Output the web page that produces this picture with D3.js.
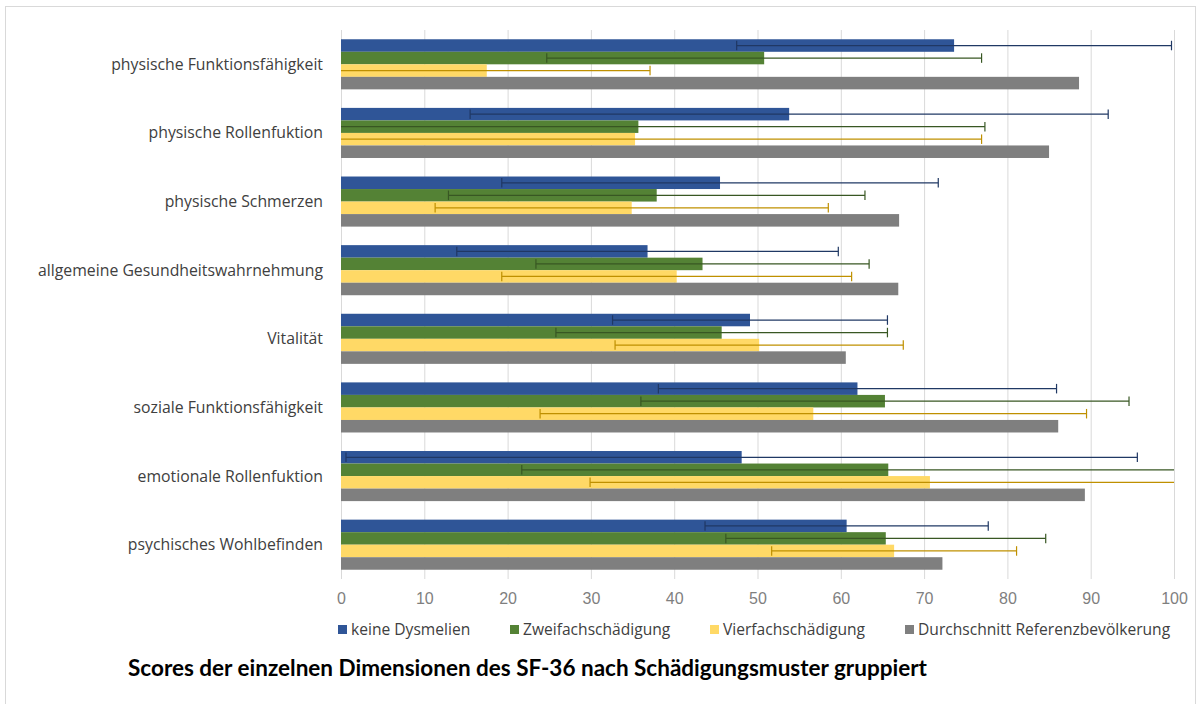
<!DOCTYPE html>
<meta charset="utf-8">
<style>
body { margin: 0; background: #fff; }
svg { font-family: Lato, "Open Sans", sans-serif; }
.grid line { stroke: #d9d9d9; stroke-width: 1; }
.grid .domain { display: none; }
.x.axis text { fill: #7f7f7f; font-size: 16px; }
.x.axis .domain, .x.axis line { display: none; }
.cat { fill: #404040; font-size: 15.8px; text-anchor: end; font-family: "Open Sans", sans-serif; }
.legend text { fill: #404040; font-size: 15.6px; font-family: "Open Sans", sans-serif; }
.title { font-weight: bold; font-size: 22.5px; fill: #000; }
</style>
<body>
<script src="https://cdn.jsdelivr.net/npm/d3@7"></script>
<script>

// the data
var categories = ["physische Funktionsfähigkeit", "physische Rollenfuktion", "physische Schmerzen",
  "allgemeine Gesundheitswahrnehmung", "Vitalität", "soziale Funktionsfähigkeit",
  "emotionale Rollenfuktion", "psychisches Wohlbefinden"];
var seriesNames = ["keine Dysmelien", "Zweifachschädigung", "Vierfachschädigung", "Durchschnitt Referenzbevölkerung"];

var keineDysmelien   = [73.6, 53.8, 45.5, 36.8, 49.1, 62.0, 48.1, 60.7];
var keineDysmelienSD = [26.1, 38.3, 26.2, 22.9, 16.5, 23.9, 47.5, 17.0];
var zweifach         = [50.8, 35.7, 37.9, 43.4, 45.7, 65.3, 65.7, 65.4];
var zweifachSD       = [26.1, 41.6, 25.0, 20.0, 19.9, 29.3, 44.0, 19.2];
var vierfach         = [17.5, 35.3, 34.9, 40.3, 50.2, 56.7, 70.7, 66.4];
var vierfachSD       = [19.6, 41.6, 23.6, 21.0, 17.3, 32.8, 40.8, 14.7];
var referenz         = [88.6, 85.0, 67.0, 66.9, 60.6, 86.1, 89.3, 72.2];
var xTicks = [0, 10, 20, 30, 40, 50, 60, 70, 80, 90, 100];

var colors    = ["#2f5597", "#548235", "#ffd966", "#7f7f7f"];
var errColors = ["#203864", "#385723", "#bf9000", null];

var values = [keineDysmelien, zweifach, vierfach, referenz];
var sds = [keineDysmelienSD, zweifachSD, vierfachSD, null];

var width = 1200, height = 704;
var plot = {left: 341, right: 1174, top: 30, bottom: 579};

var svg = d3.select("body").append("svg")
    .attr("width", width)
    .attr("height", height);

// chart frame
svg.append("rect")
    .attr("x", 5.5).attr("y", 6.5)
    .attr("width", 1190).attr("height", 710)
    .attr("fill", "none").attr("stroke", "#d9d9d9");

var x = d3.scaleLinear().domain([0, 100]).range([plot.left, plot.right]);
var y = d3.scaleBand().domain(categories)
    .range([plot.top, plot.bottom])
    .paddingInner(0.27).paddingOuter(0.135);
var ys = d3.scaleBand().domain(seriesNames).range([0, y.bandwidth()]);

// gridlines
svg.append("g")
    .attr("class", "grid")
    .attr("transform", "translate(0," + plot.bottom + ")")
    .call(d3.axisBottom(x).tickValues(xTicks).tickSize(-(plot.bottom - plot.top)).tickFormat(""));

// bars
var rows = [];
categories.forEach(function(c, i) {
  seriesNames.forEach(function(s, j) {
    rows.push({cat: c, series: s, j: j, value: values[j][i], sd: sds[j] ? sds[j][i] : null});
  });
});

svg.append("g").selectAll("rect")
    .data(rows)
  .enter().append("rect")
    .attr("x", x(0))
    .attr("y", function(d) { return y(d.cat) + ys(d.series); })
    .attr("width", function(d) { return x(d.value) - x(0); })
    .attr("height", ys.bandwidth())
    .attr("fill", function(d) { return colors[d.j]; });

// error bars (mean +/- SD, clipped to the axis)
var err = svg.append("g").selectAll("g")
    .data(rows.filter(function(d) { return d.sd != null; }))
  .enter().append("g")
    .attr("stroke", function(d) { return errColors[d.j]; })
    .attr("stroke-width", 1.2);

err.append("line")
    .attr("x1", function(d) { return x(Math.max(0, d.value - d.sd)); })
    .attr("x2", function(d) { return x(Math.min(100, d.value + d.sd)); })
    .attr("y1", function(d) { return y(d.cat) + ys(d.series) + ys.bandwidth() / 2; })
    .attr("y2", function(d) { return y(d.cat) + ys(d.series) + ys.bandwidth() / 2; });

err.filter(function(d) { return d.value - d.sd > 0; }).append("line")
    .attr("x1", function(d) { return x(d.value - d.sd); })
    .attr("x2", function(d) { return x(d.value - d.sd); })
    .attr("y1", function(d) { return y(d.cat) + ys(d.series) + 1.5; })
    .attr("y2", function(d) { return y(d.cat) + ys(d.series) + ys.bandwidth() - 1.5; });

err.filter(function(d) { return d.value + d.sd < 100; }).append("line")
    .attr("x1", function(d) { return x(d.value + d.sd); })
    .attr("x2", function(d) { return x(d.value + d.sd); })
    .attr("y1", function(d) { return y(d.cat) + ys(d.series) + 1.5; })
    .attr("y2", function(d) { return y(d.cat) + ys(d.series) + ys.bandwidth() - 1.5; });

// category labels
svg.append("g").selectAll("text")
    .data(categories)
  .enter().append("text")
    .attr("class", "cat")
    .attr("x", 323)
    .attr("y", function(d) { return y(d) + y.bandwidth() / 2; })
    .attr("dy", "0.35em")
    .text(function(d) { return d; });

// x axis labels
svg.append("g")
    .attr("class", "x axis")
    .attr("transform", "translate(0," + (plot.bottom + 14) + ")")
    .call(d3.axisBottom(x).tickValues(xTicks).tickSize(0).tickPadding(0));

// legend
var legendX = [338, 510, 710, 905];
var legend = svg.append("g").attr("class", "legend")
    .selectAll("g")
    .data(seriesNames)
  .enter().append("g")
    .attr("transform", function(d, i) { return "translate(" + legendX[i] + ",630)"; });

legend.append("rect")
    .attr("x", 0).attr("y", -5)
    .attr("width", 9).attr("height", 9)
    .attr("fill", function(d, i) { return colors[i]; });

legend.append("text")
    .attr("x", 13)
    .attr("dy", "0.35em")
    .text(function(d) { return d; });

// title
svg.append("text")
    .attr("class", "title")
    .attr("x", 128)
    .attr("y", 668)
    .attr("dy", "0.35em")
    .text("Scores der einzelnen Dimensionen des SF-36 nach Schädigungsmuster gruppiert");

</script>
</body>
